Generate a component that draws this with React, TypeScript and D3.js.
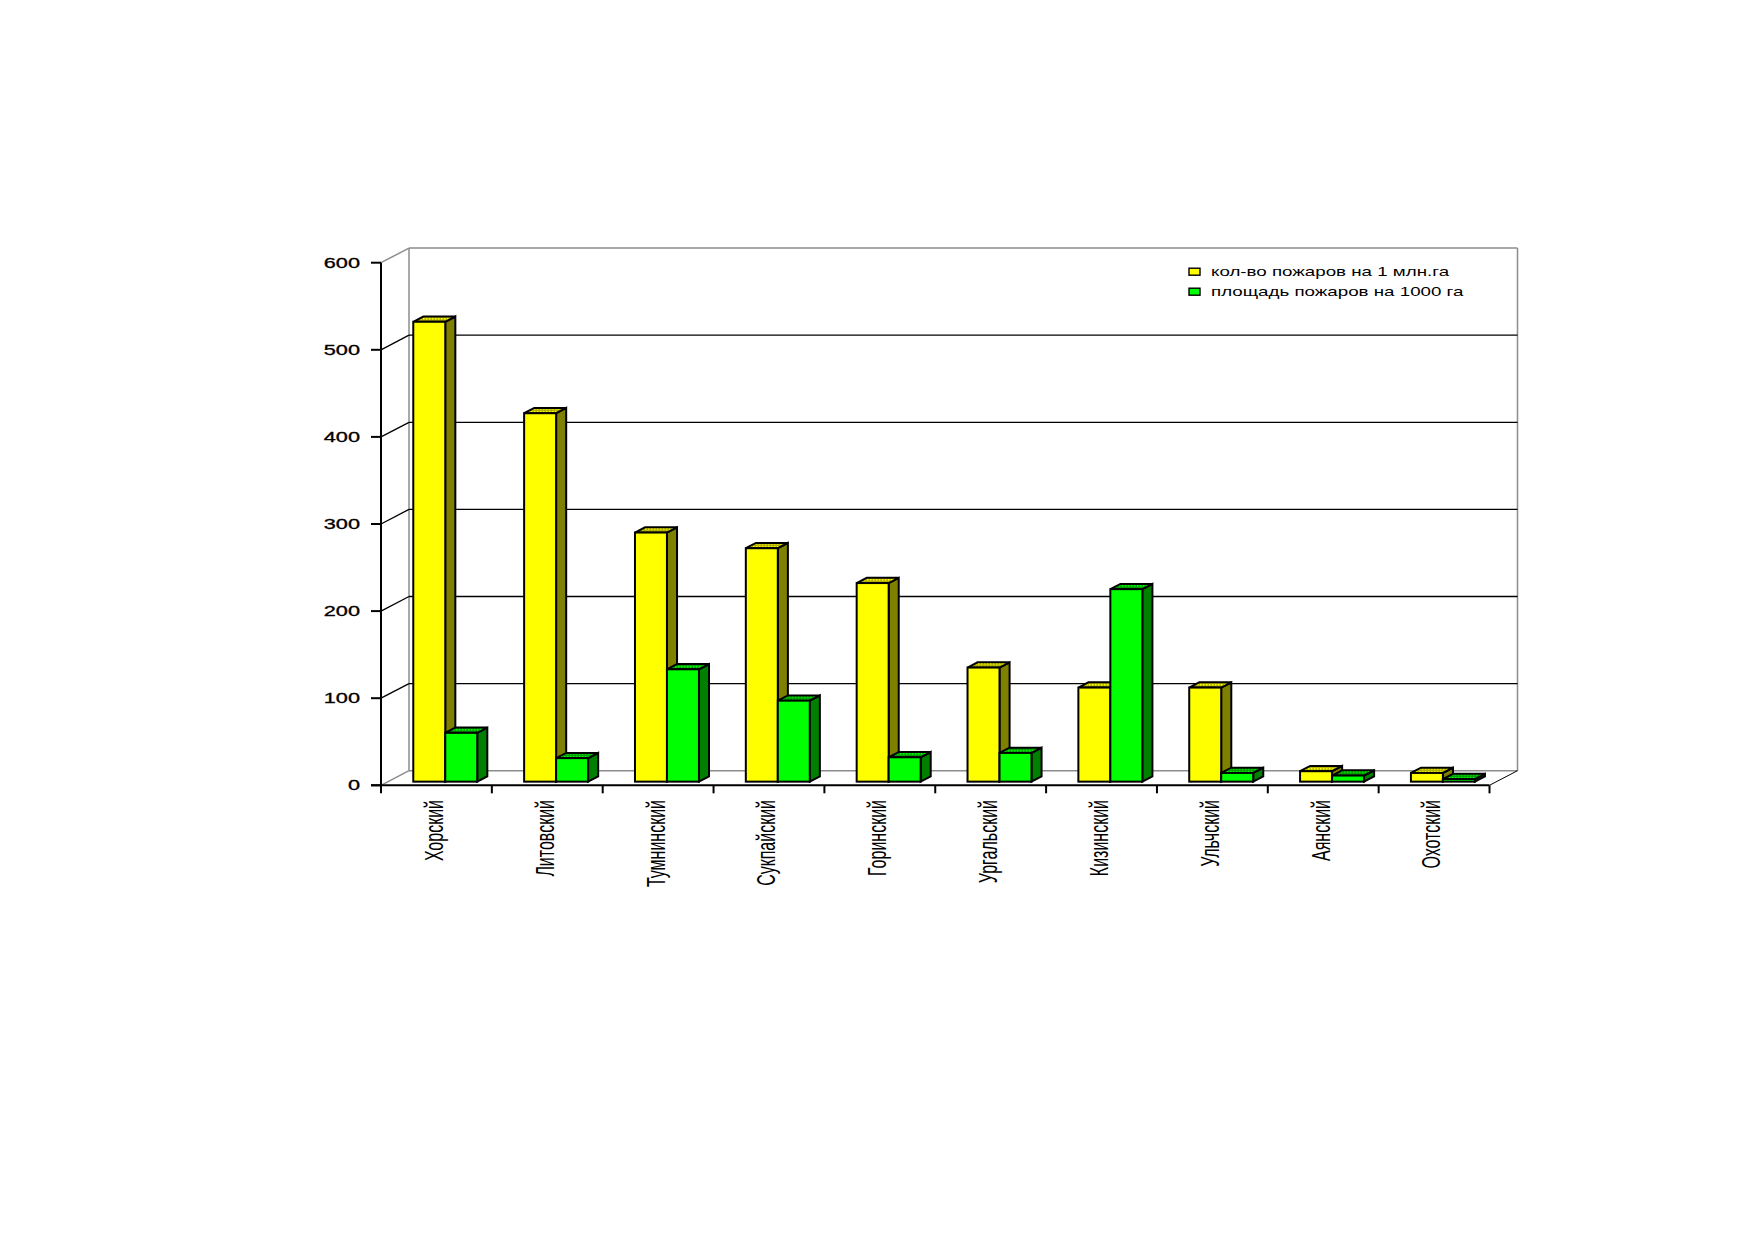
import * as d3 from "d3";

// Районы и показатели горимости
const categories = [
  "Хорский",
  "Литовский",
  "Тумнинский",
  "Сукпайский",
  "Горинский",
  "Ургальский",
  "Кизинский",
  "Ульчский",
  "Аянский",
  "Охотский",
];
const fireCount = [528, 423, 286, 268, 228, 131, 108, 108, 12, 10];
const fireArea = [56, 27, 129, 93, 28, 33, 221, 10, 7, 3];
const seriesNames = ["кол-во пожаров на 1 млн.га", "площадь пожаров на 1000 га"];
const yTicks = [0, 100, 200, 300, 400, 500, 600];

const W = 1752;
const H = 1239;
const FONT = "'Liberation Sans', Arial, sans-serif";

// 3D look: wall depth offset and bar placement inside the depth
const depth = { dx: 28, dy: -14.6 };
const barFront = 0.25;
const barBack = 0.61;

const palette = [
  { front: "#FFFF00", side: "#808000", top: "url(#topYellow)", key: "#FFFF00" },
  { front: "#00FF00", side: "#008000", top: "url(#topGreen)", key: "#00FF00" },
];

export default function App() {
  const x = d3.scaleBand<string>().domain(categories).range([381, 1489.5]);
  const y = d3.scaleLinear().domain([0, 600]).range([785.3, 262.7]);
  const bw = x.bandwidth();
  const inner = d3
    .scaleBand<number>()
    .domain([0, 1])
    .range([bw * 0.228, bw * 0.805]);

  const x0 = x.range()[0];
  const x1 = x.range()[1];
  const bx0 = x0 + depth.dx;
  const bx1 = x1 + depth.dx;
  const by = (v: number) => y(v) + depth.dy;

  const series = [fireCount, fireArea];

  const bar = (ci: number, si: number) => {
    const v = series[si][ci];
    const c = palette[si];
    const left = (x(categories[ci]) as number) + inner(si)! + barFront * depth.dx;
    const right = left + inner.bandwidth();
    const bottom = y(0) + barFront * depth.dy;
    const top = y(v) + barFront * depth.dy;
    const ddx = (barBack - barFront) * depth.dx;
    const ddy = (barBack - barFront) * depth.dy;
    const pts = (a: number[][]) => a.map((p) => p.join(",")).join(" ");
    return (
      <g key={`${ci}-${si}`} stroke="#000" strokeWidth={2} strokeLinejoin="miter">
        <polygon
          points={pts([[right, bottom], [right + ddx, bottom + ddy], [right + ddx, top + ddy], [right, top]])}
          fill={c.side}
        />
        <polygon
          points={pts([[left, top], [left + ddx, top + ddy], [right + ddx, top + ddy], [right, top]])}
          fill={c.top}
        />
        <rect x={left} y={top} width={right - left} height={bottom - top} fill={c.front} />
      </g>
    );
  };

  return (
    <div style={{ position: "absolute", left: 0, top: 0 }}>
      <svg width={W} height={H} style={{ display: "block", background: "#fff" }}>
        <defs>
          <pattern id="topYellow" width={3} height={3} patternUnits="userSpaceOnUse">
            <rect width={3} height={3} fill="#B4B400" />
            <rect width={1.5} height={1.5} fill="#FFFF00" />
          </pattern>
          <pattern id="topGreen" width={3} height={3} patternUnits="userSpaceOnUse">
            <rect width={3} height={3} fill="#00A000" />
            <rect width={1.5} height={1.5} fill="#00FF00" />
          </pattern>
        </defs>

        {/* back wall frame */}
        <g fill="none" stroke="#8C8C8C" strokeWidth={1.5}>
          <line x1={bx0} x2={bx1} y1={by(600)} y2={by(600)} />
          <line x1={bx0} x2={bx1} y1={by(0)} y2={by(0)} />
          <line x1={bx0} x2={bx0} y1={by(600)} y2={by(0)} />
          <line x1={bx1} x2={bx1} y1={by(600)} y2={by(0)} />
          <line x1={x0} x2={bx0} y1={y(600)} y2={by(600)} />
          <line x1={x0} x2={bx0} y1={y(0)} y2={by(0)} />
        </g>

        {/* gridlines on the back wall and side diagonals */}
        <g stroke="#000" strokeWidth={1.3}>
          {yTicks
            .filter((t) => t > 0 && t < 600)
            .map((t) => (
              <g key={t}>
                <line x1={bx0} x2={bx1} y1={by(t)} y2={by(t)} />
                <line x1={x0} x2={bx0} y1={y(t)} y2={by(t)} />
              </g>
            ))}
          <line x1={x1} x2={bx1} y1={y(0)} y2={by(0)} strokeWidth={1} />
        </g>

        {/* bars */}
        {categories.map((_, ci) => [bar(ci, 0), bar(ci, 1)])}

        {/* front axes */}
        <g stroke="#000" strokeWidth={2}>
          <line x1={x0} x2={x0} y1={y(600)} y2={y(0) + 8} />
          <line x1={x0 - 10} x2={x1} y1={y(0)} y2={y(0)} />
          {yTicks.map((t) => (
            <line key={t} x1={x0 - 10} x2={x0} y1={y(t)} y2={y(t)} />
          ))}
          {categories.map((c) => (
            <line key={c} x1={(x(c) as number) + bw} x2={(x(c) as number) + bw} y1={y(0)} y2={y(0) + 8} />
          ))}
        </g>

        {/* y tick labels */}
        <g fontFamily={FONT} fontSize={14} fill="#000" stroke="#000" strokeWidth={0.3}>
          {yTicks.map((t) => (
            <text
              key={t}
              transform={`translate(360,${y(t)}) scale(1.55,1)`}
              textAnchor="end"
              dominantBaseline="central"
            >
              {t}
            </text>
          ))}
        </g>

        {/* category labels */}
        <g fontFamily={FONT} fontSize={16} fill="#000">
          {categories.map((c) => (
            <text
              key={c}
              transform={`translate(${(x(c) as number) + bw / 2 - 2},800) scale(1.6,1) rotate(-90)`}
              textAnchor="end"
              dominantBaseline="central"
            >
              {c}
            </text>
          ))}
        </g>

        {/* legend */}
        <g fontFamily={FONT} fontSize={12.5} fill="#000">
          {seriesNames.map((s, i) => (
            <g key={s} transform={`translate(1189,${271.7 + i * 20})`}>
              <rect x={0} y={-3.5} width={11} height={7} fill={palette[i].key} stroke="#000" strokeWidth={1.4} />
              <text transform="translate(22,0) scale(1.5,1)" dominantBaseline="central">
                {s}
              </text>
            </g>
          ))}
        </g>
      </svg>
    </div>
  );
}
